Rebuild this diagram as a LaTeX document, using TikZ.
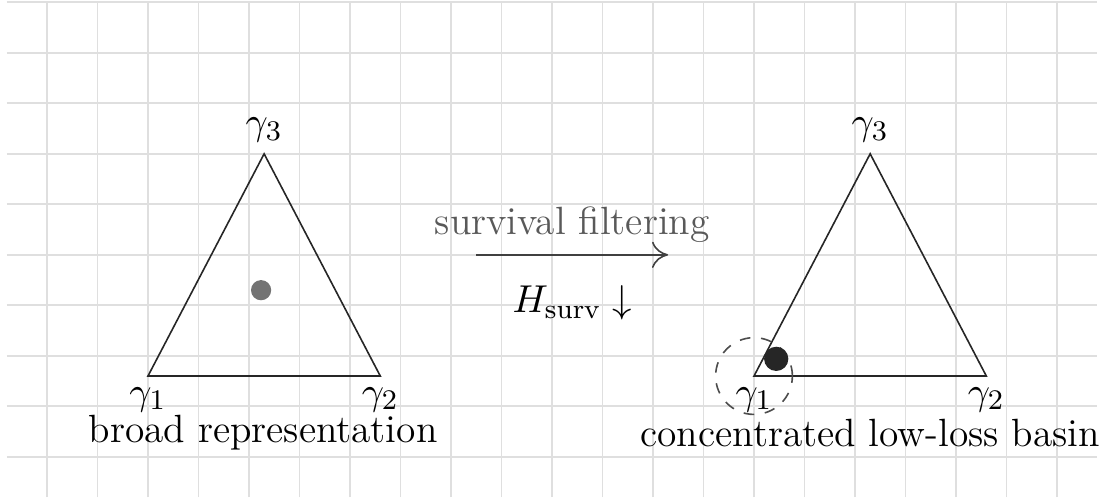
\documentclass[tikz,border=0pt]{standalone}
\usepackage{amsmath}
\usepackage{xcolor}
\usepackage{tikz}
\usetikzlibrary{positioning, arrows.meta}

\begin{document}
\begin{tikzpicture}[
  every node/.style={font=\fontsize{11.1pt}{13pt}\selectfont},
  simplex/.style={draw=black!85, line width=0.45pt},
  helpgrid/.style={draw=gray!25, line width=0.5pt},
  corner/.style={inner sep=3pt},
  caption/.style={inner sep=0pt},
  mass/.style={circle, inner sep=0pt},
  basin/.style={circle, draw=black!70, dashed, line width=0.45pt, inner sep=0pt, minimum size=7.6mm},
  flow/.style={-{To[length=1.6mm,width=2.6mm]}, draw=black!75, line width=0.45pt},
]
  \useasboundingbox (-1.465,-1.198) rectangle (9.475,3.723);
  \draw[helpgrid, step=0.5, yshift=0.2cm] (-1.4,-1.4) grid (9.4,3.5);

  % left simplex
  \coordinate (a1) at (0,0);
  \coordinate (a2) at (2.3,0);
  \coordinate (a3) at (1.15,2.2);
  \draw[simplex] (a1) -- (a2) -- (a3) -- cycle;
  \node[corner, below=0pt of a1] (la1) {$\gamma_1$};
  \node[corner, below=0pt of a2] (la2) {$\gamma_2$};
  \node[corner, above=0pt of a3] (la3) {$\gamma_3$};
  \node[mass, fill=black!55, minimum size=2.0mm] (spread) at (1.12,0.85) {};
  \node[caption] (broad) at (1.14,-0.56) {broad representation};

  % right simplex
  \coordinate (b1) at (6,0);
  \coordinate (b2) at (8.3,0);
  \coordinate (b3) at (7.15,2.2);
  \draw[simplex] (b1) -- (b2) -- (b3) -- cycle;
  \node[corner, below=0pt of b1] (lb1) {$\gamma_1$};
  \node[corner, below=0pt of b2] (lb2) {$\gamma_2$};
  \node[corner, above=0pt of b3] (lb3) {$\gamma_3$};
  \node[basin] (ring) at (b1) {};
  \node[mass, fill=black!85, minimum size=2.4mm] (peak) at (6.22,0.17) {};
  \node[caption] (conc) at (7.15,-0.56) {concentrated low-loss basin};

  % filtering arrow
  \coordinate (fs) at (3.25,1.2);
  \coordinate (fe) at (5.15,1.2);
  \draw[flow] (fs) -- node[above, text=black!65] {survival filtering}
                      node[below=5pt] {$H_{\text{surv}}\downarrow$} (fe);
\end{tikzpicture}
\end{document}
